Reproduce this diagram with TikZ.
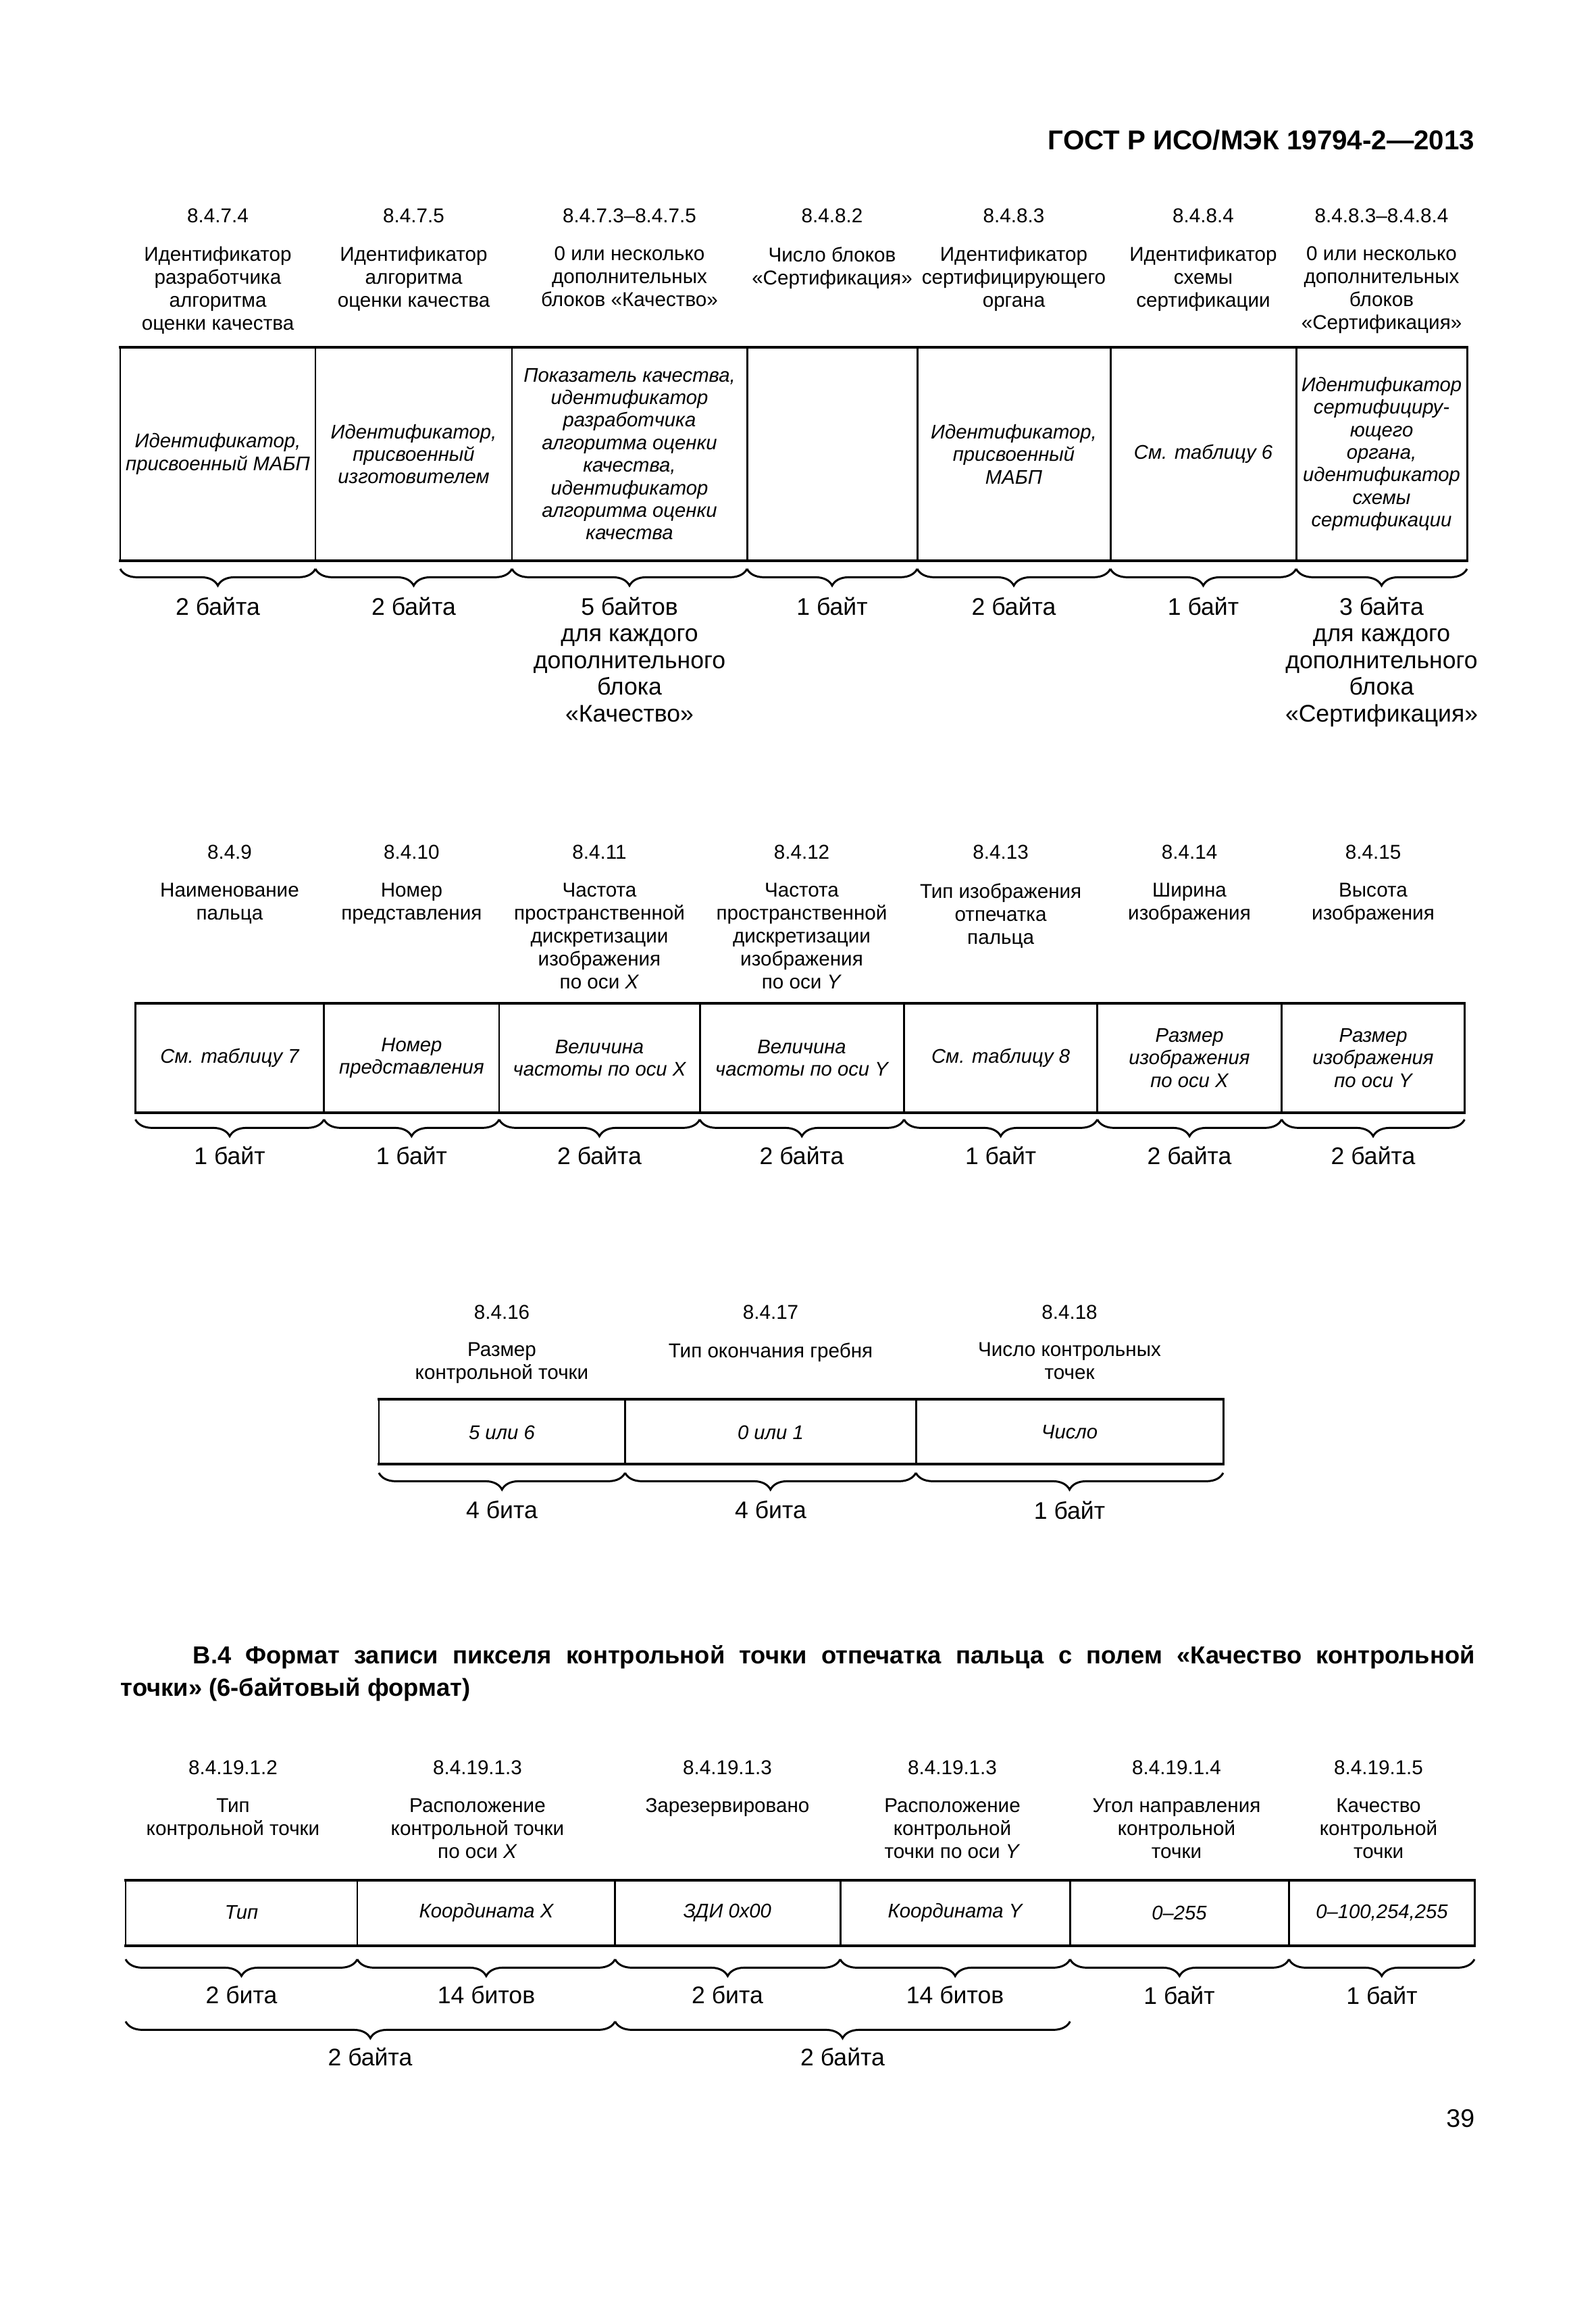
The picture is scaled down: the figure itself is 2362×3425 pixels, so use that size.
\documentclass[tikz,border=0pt]{standalone}
\usepackage{fontspec}
\setmainfont{Liberation Sans}
\usetikzlibrary{decorations.pathreplacing}

\tikzset{
    fieldnum/.style={inner sep=0pt, font=\fontsize{7.5}{8.6}\selectfont},
    fieldname/.style={inner sep=0pt, anchor=north, align=center, font=\fontsize{7.5}{8.6}\selectfont},
    fieldval/.style={inner sep=0pt, align=center, font=\fontsize{7.4}{8.45}\selectfont\itshape},
    fieldsize/.style={inner sep=0pt, anchor=north, align=center, font=\fontsize{9}{10}\selectfont},
    rowline/.style={line width=1pt, line cap=rect},
    colline/.style={line width=0.75pt},
    sizebrace/.style={decorate, decoration={brace, mirror, amplitude=2.2mm}, line width=0.75pt},
}

\begin{document}
\begin{tikzpicture}[x=0.08891mm, y=-0.08891mm]

    \useasboundingbox (0,0) rectangle (2362,3425);

    % Колонтитул
    \node[anchor=base east, inner sep=0pt, font=\fontsize{10.2}{12}\selectfont\bfseries] (title) at (2184,222) {ГОСТ Р ИСО/МЭК 19794-2—2013};

    % ---------- Ряд 1 ----------
    \foreach \i/\x/\t in {1/322.5/8.4.7.4, 2/612.5/8.4.7.5, 3/932/8.4.7.3–8.4.7.5, 4/1232/8.4.8.2, 5/1501/8.4.8.3, 6/1781.5/8.4.8.4, 7/2045.5/8.4.8.3–8.4.8.4}
        \node[fieldnum] (s1num\i) at (\x,319) {\t};

    \node[fieldname] (s1name1) at (322.5,364.5) {Идентификатор\\разработчика\\алгоритма\\оценки качества};
    \node[fieldname] (s1name2) at (612.5,364.5) {Идентификатор\\алгоритма\\оценки качества};
    \node[fieldname] (s1name3) at (932,364.5) {0 или несколько\\дополнительных\\блоков «Качество»};
    \node[fieldname] (s1name4) at (1232,364.5) {Число блоков\\«Сертификация»};
    \node[fieldname] (s1name5) at (1501,364.5) {Идентификатор\\сертифицирующего\\органа};
    \node[fieldname] (s1name6) at (1781.5,364.5) {Идентификатор\\схемы\\сертификации};
    \node[fieldname] (s1name7) at (2045.5,364.5) {0 или несколько\\дополнительных\\блоков\\«Сертификация»};

    % рамка
    \draw[rowline] (178,514) -- (2172,514);
    \draw[rowline] (178,830) -- (2172,830);
    \foreach \x in {178,467,758,1106,1358,1644,1919,2172}
        \draw[colline] (\x,514) -- (\x,830);

    \node[fieldval] (s1val1) at (322.5,672) {Идентификатор,\\присвоенный МАБП};
    \node[fieldval] (s1val2) at (612.5,672) {Идентификатор,\\присвоенный\\изготовителем};
    \node[fieldval] (s1val3) at (932,672) {Показатель качества,\\идентификатор\\разработчика\\алгоритма оценки\\качества,\\идентификатор\\алгоритма оценки\\качества};
    \node[fieldval] (s1val5) at (1501,672) {Идентификатор,\\присвоенный\\МАБП};
    \node[fieldval] (s1val6) at (1781.5,672) {См. таблицу 6};
    \node[fieldval] (s1val7) at (2045.5,672) {Идентификатор\\сертифициру-\\ющего\\органа,\\идентификатор\\схемы\\сертификации};

    % скобки и длины
    \foreach \a/\b in {178/467, 467/758, 758/1106, 1106/1358, 1358/1644, 1644/1919, 1919/2172}
        \draw[sizebrace] (\a,842) -- (\b,842);

    \node[fieldsize] (s1size1) at (322.5,883) {2 байта};
    \node[fieldsize] (s1size2) at (612.5,883) {2 байта};
    \node[fieldsize] (s1size3) at (932,883) {5 байтов\\для каждого\\дополнительного\\блока\\«Качество»};
    \node[fieldsize] (s1size4) at (1232,883) {1 байт};
    \node[fieldsize] (s1size5) at (1501,883) {2 байта};
    \node[fieldsize] (s1size6) at (1781.5,883) {1 байт};
    \node[fieldsize] (s1size7) at (2045.5,883) {3 байта\\для каждого\\дополнительного\\блока\\«Сертификация»};

    % ---------- Ряд 2 ----------
    \foreach \i/\x/\t in {1/340/8.4.9, 2/609.4/8.4.10, 3/887.5/8.4.11, 4/1187/8.4.12, 5/1481.6/8.4.13, 6/1761/8.4.14, 7/2033/8.4.15}
        \node[fieldnum] (s2num\i) at (\x,1261) {\t};

    \node[fieldname] (s2name1) at (340,1306.5) {Наименование\\пальца};
    \node[fieldname] (s2name2) at (609.4,1306.5) {Номер\\представления};
    \node[fieldname] (s2name3) at (887.5,1306.5) {Частота\\пространственной\\дискретизации\\изображения\\по оси \textit{X}};
    \node[fieldname] (s2name4) at (1187,1306.5) {Частота\\пространственной\\дискретизации\\изображения\\по оси \textit{Y}};
    \node[fieldname] (s2name5) at (1481.6,1306.5) {Тип изображения\\отпечатка\\пальца};
    \node[fieldname] (s2name6) at (1761,1306.5) {Ширина\\изображения};
    \node[fieldname] (s2name7) at (2033,1306.5) {Высота\\изображения};

    \draw[rowline] (200.5,1485) -- (2168.4,1485);
    \draw[rowline] (200.5,1647) -- (2168.4,1647);
    \foreach \x in {200.5,479.7,739,1036,1338.5,1624.7,1897.6,2168.4}
        \draw[colline] (\x,1485) -- (\x,1647);

    \node[fieldval] (s2val1) at (340,1566) {См. таблицу 7};
    \node[fieldval] (s2val2) at (609.4,1566) {Номер\\представления};
    \node[fieldval] (s2val3) at (887.5,1566) {Величина\\частоты по оси X};
    \node[fieldval] (s2val4) at (1187,1566) {Величина\\частоты по оси Y};
    \node[fieldval] (s2val5) at (1481.6,1566) {См. таблицу 8};
    \node[fieldval] (s2val6) at (1761,1566) {Размер\\изображения\\по оси X};
    \node[fieldval] (s2val7) at (2033,1566) {Размер\\изображения\\по оси Y};

    \foreach \a/\b in {200.5/479.7, 479.7/739, 739/1036, 1036/1338.5, 1338.5/1624.7, 1624.7/1897.6, 1897.6/2168.4}
        \draw[sizebrace] (\a,1657) -- (\b,1657);

    \foreach \i/\x/\t in {1/340/1 байт, 2/609.4/1 байт, 3/887.5/2 байта, 4/1187/2 байта, 5/1481.6/1 байт, 6/1761/2 байта, 7/2033/2 байта}
        \node[fieldsize] (s2size\i) at (\x,1696) {\t};

    % ---------- Ряд 3 ----------
    \foreach \i/\x/\t in {1/743/8.4.16, 2/1141/8.4.17, 3/1583.5/8.4.18}
        \node[fieldnum] (s3num\i) at (\x,1942) {\t};

    \node[fieldname] (s3name1) at (743,1986.5) {Размер\\контрольной точки};
    \node[fieldname] (s3name2) at (1141,1986.5) {Тип окончания гребня};
    \node[fieldname] (s3name3) at (1583.5,1986.5) {Число контрольных\\точек};

    \draw[rowline] (561,2071) -- (1811,2071);
    \draw[rowline] (561,2167) -- (1811,2167);
    \foreach \x in {561,925.5,1356,1811}
        \draw[colline] (\x,2071) -- (\x,2167);

    \node[fieldval] (s3val1) at (743,2120) {5 или 6};
    \node[fieldval] (s3val2) at (1141,2120) {0 или 1};
    \node[fieldval] (s3val3) at (1583.5,2120) {Число};

    \foreach \a/\b in {561/925.5, 925.5/1356, 1356/1811}
        \draw[sizebrace] (\a,2180) -- (\b,2180);

    \node[fieldsize] (s3size1) at (743,2221) {4 бита};
    \node[fieldsize] (s3size2) at (1141,2221) {4 бита};
    \node[fieldsize] (s3size3) at (1583.5,2221) {1 байт};

    % ---------- B.4 ----------
    \node[anchor=base west, inner sep=0pt, font=\fontsize{9.2}{12}\selectfont\bfseries] (b4line1) at (285,2462)
        {\makebox[168.75mm][s]{В.4 Формат записи пикселя контрольной точки отпечатка пальца с полем «Качество контрольной}};
    \node[anchor=base west, inner sep=0pt, font=\fontsize{9.2}{12}\selectfont\bfseries] (b4line2) at (178,2510)
        {точки» (6-байтовый формат)};

    % ---------- Ряд 4 ----------
    \foreach \i/\x/\t in {1/345/8.4.19.1.2, 2/707/8.4.19.1.3, 3/1077/8.4.19.1.3, 4/1410/8.4.19.1.3, 5/1742/8.4.19.1.4, 6/2041/8.4.19.1.5}
        \node[fieldnum] (s4num\i) at (\x,2616) {\t};

    \node[fieldname] (s4name1) at (345,2661) {Тип\\контрольной точки};
    \node[fieldname] (s4name2) at (707,2661) {Расположение\\контрольной точки\\по оси \textit{X}};
    \node[fieldname] (s4name3) at (1077,2661) {Зарезервировано};
    \node[fieldname] (s4name4) at (1410,2661) {Расположение\\контрольной\\точки по оси \textit{Y}};
    \node[fieldname] (s4name5) at (1742,2661) {Угол направления\\контрольной\\точки};
    \node[fieldname] (s4name6) at (2041,2661) {Качество\\контрольной\\точки};

    \draw[rowline] (186,2783) -- (2183,2783);
    \draw[rowline] (186,2880) -- (2183,2880);
    \foreach \x in {186,529,910.7,1244,1584.3,1908.4,2183}
        \draw[colline] (\x,2783) -- (\x,2880);

    \node[fieldval] (s4val1) at (357.5,2831) {Тип};
    \node[fieldval] (s4val2) at (720,2831) {Координата X};
    \node[fieldval] (s4val3) at (1077,2831) {ЗДИ 0x00};
    \node[fieldval] (s4val4) at (1414,2831) {Координата Y};
    \node[fieldval] (s4val5) at (1746,2831) {0–255};
    \node[fieldval] (s4val6) at (2046,2831) {0–100,254,255};

    \foreach \a/\b in {186/529, 529/910.7, 910.7/1244, 1244/1584.3, 1584.3/1908.4, 1908.4/2183}
        \draw[sizebrace] (\a,2900) -- (\b,2900);

    \node[fieldsize] (s4size1) at (357.5,2939) {2 бита};
    \node[fieldsize] (s4size2) at (720,2939) {14 битов};
    \node[fieldsize] (s4size3) at (1077,2939) {2 бита};
    \node[fieldsize] (s4size4) at (1414,2939) {14 битов};
    \node[fieldsize] (s4size5) at (1746,2939) {1 байт};
    \node[fieldsize] (s4size6) at (2046,2939) {1 байт};

    % объединяющие скобки
    \draw[sizebrace] (186,2992) -- (910.7,2992);
    \draw[sizebrace] (910.7,2992) -- (1584.3,2992);
    \node[fieldsize] (s4pair1) at (548,3030) {2 байта};
    \node[fieldsize] (s4pair2) at (1247.5,3030) {2 байта};

    % Номер страницы
    \node[anchor=base east, inner sep=0pt, font=\fontsize{9.5}{11}\selectfont] (page) at (2184,3148) {39};

\end{tikzpicture}
\end{document}
